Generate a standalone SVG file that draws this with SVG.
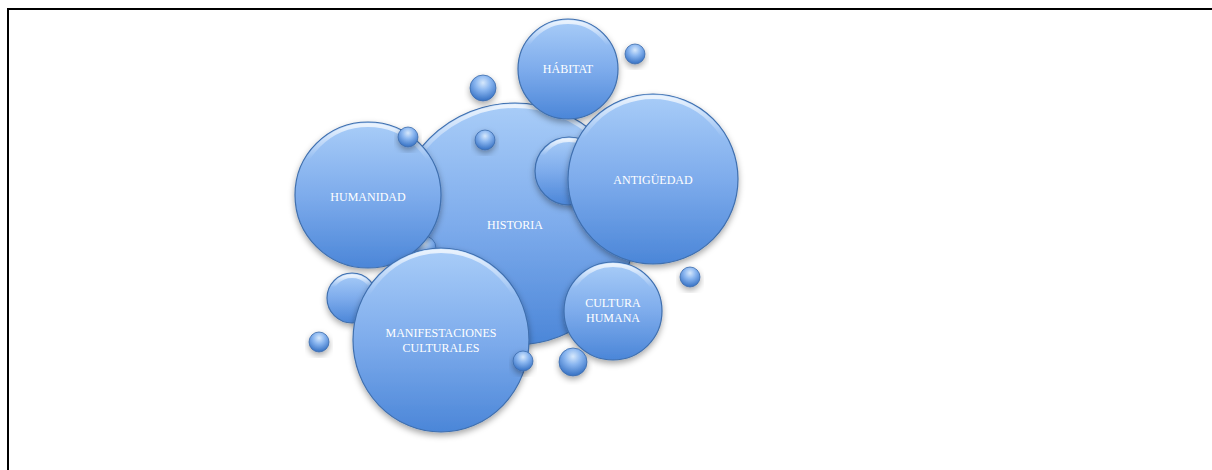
<svg xmlns="http://www.w3.org/2000/svg" width="1212" height="470" viewBox="0 0 1212 470">
<defs>
<linearGradient id="gBig" x1="0" y1="0" x2="0" y2="1">
<stop offset="0" stop-color="#a9cdf8"/>
<stop offset="0.5" stop-color="#7eacec"/>
<stop offset="1" stop-color="#4b86d8"/>
</linearGradient>
<linearGradient id="gRim" x1="0" y1="0" x2="0" y2="1">
<stop offset="0" stop-color="#ffffff" stop-opacity="0.75"/>
<stop offset="0.25" stop-color="#ffffff" stop-opacity="0"/>
</linearGradient>
<radialGradient id="gSmall" cx="0.5" cy="0.3" r="0.65">
<stop offset="0" stop-color="#d6e8fc"/>
<stop offset="0.45" stop-color="#8ab6f0"/>
<stop offset="1" stop-color="#3f78c8"/>
</radialGradient>
<filter id="sh" x="-20%" y="-20%" width="140%" height="150%">
<feDropShadow dx="0" dy="3" stdDeviation="3" flood-color="#000" flood-opacity="0.35"/>
</filter>
</defs>
<style>
.big{fill:url(#gBig);stroke:#3f6fae;stroke-width:1.2;filter:url(#sh)}
.rim{fill:none;stroke:url(#gRim);stroke-width:4}
.dot{fill:url(#gSmall);stroke:#3b6bab;stroke-width:0.8;filter:url(#sh)}
.lbl{font-family:"Liberation Serif","DejaVu Serif",serif;font-size:12px;fill:#ffffff;text-anchor:middle}
.frame{fill:none;stroke:#000;stroke-width:2}
</style>
<path class="frame" d="M8,470 V9 H1212"/>
<g id="connectors"/>
<g id="historia">
<circle class="big" cx="515" cy="224" r="121"/>
<circle class="rim" cx="515" cy="224" r="118"/>
<text class="lbl" x="515" y="229">HISTORIA</text>
</g>
<g id="dot-hidden"><circle class="dot" cx="424" cy="248" r="12"/></g>
<g id="humanidad">
<circle class="big" cx="368" cy="195" r="73"/>
<circle class="rim" cx="368" cy="195" r="70"/>
<text class="lbl" x="368" y="201">HUMANIDAD</text>
</g>
<g id="dot1"><circle class="dot" cx="408" cy="137" r="10"/></g>
<g id="dot2"><circle class="dot" cx="485" cy="140" r="10"/></g>
<g id="dot3"><circle class="dot" cx="483" cy="88" r="13"/></g>
<g id="habitat">
<circle class="big" cx="568" cy="69" r="50"/>
<circle class="rim" cx="568" cy="69" r="47"/>
<text class="lbl" x="568" y="73">HÁBITAT</text>
</g>
<g id="dot4"><circle class="dot" cx="635" cy="54" r="10"/></g>
<g id="bubble-a">
<circle class="big" cx="569" cy="171" r="34"/>
<circle class="rim" cx="569" cy="171" r="31"/>
</g>
<g id="antiguedad">
<circle class="big" cx="653" cy="179" r="85"/>
<circle class="rim" cx="653" cy="179" r="82"/>
<text class="lbl" x="653" y="184">ANTIGÜEDAD</text>
</g>
<g id="dot5"><circle class="dot" cx="690" cy="277" r="10"/></g>
<g id="cultura">
<circle class="big" cx="613" cy="311" r="49"/>
<circle class="rim" cx="613" cy="311" r="46"/>
<text class="lbl" x="613" y="307">CULTURA</text>
<text class="lbl" x="613" y="322">HUMANA</text>
</g>
<g id="dot6"><circle class="dot" cx="573" cy="362" r="14"/></g>
<g id="bubble-b">
<circle class="big" cx="352" cy="298" r="25"/>
<circle class="rim" cx="352" cy="298" r="22"/>
</g>
<g id="dot7"><circle class="dot" cx="319" cy="342" r="10"/></g>
<g id="manifestaciones">
<ellipse class="big" cx="441" cy="340" rx="88" ry="92"/>
<ellipse class="rim" cx="441" cy="340" rx="85" ry="89"/>
<text class="lbl" x="441" y="337">MANIFESTACIONES</text>
<text class="lbl" x="441" y="352">CULTURALES</text>
</g>
<g id="dot8"><circle class="dot" cx="523" cy="361" r="10"/></g>
</svg>
